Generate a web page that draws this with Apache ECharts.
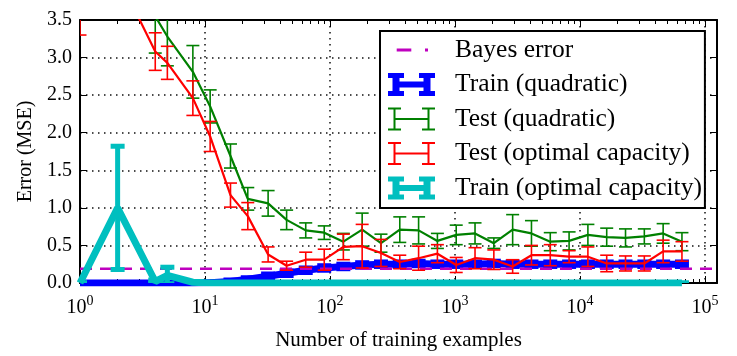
<!DOCTYPE html>
<html><head><meta charset="utf-8">
<script src="https://cdn.jsdelivr.net/npm/echarts@6/dist/echarts.min.js"></script>
<style>html,body{margin:0;padding:0;background:#fff}#c{width:737px;height:356px}</style>
</head><body><div id="c"></div>
<script>
// ---- data ----
const nExamples = [1,2,4,5,8,11,16,22,32,45,64,90,128,181,256,362,512,724,1024,1448,2048,2896,4096,5792,8192,11585,16384,23170,32768,46341,65536];

const trainQuadMean = [0,0,0,0,0,0.005,0.02,0.05,0.09,0.13,0.17,0.20,0.22,0.24,0.25,0.25,0.26,0.25,0.25,0.25,0.26,0.25,0.25,0.25,0.25,0.25,0.25,0.25,0.25,0.25,0.25];
const trainQuadErr  = [0,0,0,0,0,0.01,0.02,0.02,0.03,0.03,0.03,0.03,0.03,0.03,0.03,0.03,0.03,0.03,0.03,0.03,0.03,0.03,0.03,0.03,0.03,0.03,0.03,0.03,0.03,0.03,0.03];

const testQuadMean = [6.5,4.8,3.55,3.28,2.81,2.35,1.69,1.12,1.06,0.84,0.70,0.67,0.55,0.71,0.53,0.71,0.70,0.56,0.64,0.66,0.53,0.71,0.66,0.55,0.56,0.64,0.61,0.60,0.62,0.66,0.55];
const testQuadErr  = [1.5,0.8,0.49,0.39,0.35,0.22,0.16,0.15,0.17,0.13,0.10,0.09,0.11,0.22,0.12,0.17,0.18,0.10,0.13,0.14,0.07,0.20,0.17,0.12,0.12,0.14,0.12,0.12,0.10,0.13,0.12];

const testOptMean = [6.0,4.1,3.08,2.93,2.46,1.95,1.17,0.89,0.38,0.23,0.31,0.31,0.48,0.49,0.40,0.28,0.33,0.39,0.24,0.33,0.31,0.22,0.37,0.37,0.35,0.35,0.26,0.26,0.26,0.42,0.42];
const testOptErr  = [2.7,0.5,0.25,0.22,0.23,0.20,0.16,0.18,0.10,0.06,0.10,0.14,0.17,0.29,0.18,0.09,0.16,0.12,0.10,0.14,0.13,0.09,0.13,0.14,0.08,0.13,0.11,0.10,0.10,0.15,0.13];

const trainOptMean = [0,1.0,0.02,0.10,0.01,0,0,0,0,0,0,0,0,0,0,0,0,0,0,0,0,0,0,0,0,0,0,0,0,0,0];
const trainOptErr  = [0,0.82,0.02,0.11,0.01,0,0,0,0,0,0,0,0,0,0,0,0,0,0,0,0,0,0,0,0,0,0,0,0,0,0];

const bayesError = 0.19;

const xMin = 1, xMax = 125000;
const xTickExponents = [0,1,2,3,4,5];
const yTickLabels = ['0.0','0.5','1.0','1.5','2.0','2.5','3.0','3.5'];
const yMin = 0, yMax = 3.5, yStep = 0.5;

const seriesNames = ['Bayes error','Train (quadratic)','Test (quadratic)','Test (optimal capacity)','Train (optimal capacity)'];
const colors = {bayes:'#bf00bf', trainQuad:'#0000ff', testQuad:'#008000', testOpt:'#ff0000', trainOpt:'#00bfbf'};

// minor ticks of the log axis (2..9 in each decade)
const minorTicks = [];
for (let d = 0; d <= 5; d++) for (let k = 2; k <= 9; k++) { const v = k * Math.pow(10, d); if (v < xMax) minorTicks.push(v); }

const FONT = 'Liberation Serif';

function zip(m, e) { return nExamples.map((n, i) => [n, m[i], e[i]]); }
function zipLine(m) { return nExamples.map((n, i) => [n, m[i]]); }

function errBar(color, lw, capHalf) {
  return function (params, api) {
    const x = api.value(0), m = api.value(1), e = api.value(2);
    const hi = api.coord([x, m + e]), lo = api.coord([x, m - e]);
    const st = {stroke: color, lineWidth: lw, fill: null};
    return {type: 'group', children: [
      {type: 'line', shape: {x1: hi[0], y1: hi[1], x2: lo[0], y2: lo[1]}, style: st},
      {type: 'line', shape: {x1: hi[0] - capHalf, y1: hi[1], x2: hi[0] + capHalf, y2: hi[1]}, style: st},
      {type: 'line', shape: {x1: lo[0] - capHalf, y1: lo[1], x2: lo[0] + capHalf, y2: lo[1]}, style: st}
    ]};
  };
}

const thinH = 'path://M0 0H13V2H0Z M0 21H13V23H0Z M5.5 0H7.5V23H5.5Z M34 0H47V2H34Z M34 21H47V23H34Z M39.5 0H41.5V23H39.5Z M6.5 10.5H40.5V12.5H6.5Z';
const thickH = 'path://M0 0H16V5H0Z M0 18H16V23H0Z M4.5 0H11.5V23H4.5Z M31 0H47V5H31Z M31 18H47V23H31Z M35.5 0H42.5V23H35.5Z M8 8.5H39V14.5H8Z';
const dashDot = 'path://M0 0L0 0Z M47 23L47 23Z M8.7 10H23.3V13H8.7Z M37 10H40V13H37Z';

const chart = echarts.init(document.getElementById('c'), null, {renderer: 'canvas'});

const gridRect = {left: 80, right: 20, top: 20, bottom: 73, outerBoundsMode: 'none'};
const dotted = {color: '#111', width: 1.5, type: [1.5, 4.5]};

function lineSeries(name, mean, color, lw, z) {
  return {type: 'line', name: name, data: zipLine(mean), xAxisIndex: 0, yAxisIndex: 0,
    symbol: 'none', clip: true, z: z, lineStyle: {color: color, width: lw}, itemStyle: {color: color},
    emphasis: {disabled: true}, animation: false};
}
function barSeries(name, mean, err, color, lw, capHalf, z) {
  return {type: 'custom', name: name, data: zip(mean, err), xAxisIndex: 0, yAxisIndex: 0,
    encode: {x: 0, y: 1}, clip: true, z: z, renderItem: errBar(color, lw, capHalf),
    itemStyle: {color: color}, animation: false, silent: true};
}

chart.setOption({
  animation: false,
  textStyle: {fontFamily: FONT},
  grid: [Object.assign({}, gridRect), Object.assign({}, gridRect)],
  xAxis: [
    {type: 'log', gridIndex: 0, position: 'bottom', min: xMin, max: xMax, logBase: 10,
     axisLine: {show: true, onZero: false, lineStyle: {color: '#000', width: 2}},
     axisTick: {show: true, inside: true, length: 7, lineStyle: {color: '#000', width: 1}},
     splitLine: {show: true, lineStyle: dotted},
     axisLabel: {show: true, margin: 11, showMaxLabel: false, color: '#000',
       formatter: function (v) {
         const e = Math.round(Math.log10(v));
         if (xTickExponents.indexOf(e) < 0 || Math.abs(Math.pow(10, e) - v) > 1e-6 * v) return '';
         return '{b|10}{s|' + e + '}';
       },
       rich: {b: {fontSize: 20, fontFamily: FONT, color: '#000', lineHeight: 22},
              s: {fontSize: 14, fontFamily: FONT, color: '#000', verticalAlign: 'top', padding: [0, 0, 14, 0]}}},
     name: 'Number of training examples', nameLocation: 'middle', nameGap: 47,
     nameTextStyle: {fontSize: 21, fontFamily: FONT, color: '#000'}},
    {type: 'log', gridIndex: 0, position: 'top', min: xMin, max: xMax, logBase: 10,
     axisLine: {show: true, onZero: false, lineStyle: {color: '#000', width: 2}},
     axisTick: {show: true, inside: true, length: 7, lineStyle: {color: '#000', width: 1}},
     splitLine: {show: false}, axisLabel: {show: false}},
    {type: 'log', gridIndex: 1, position: 'bottom', min: xMin, max: xMax, logBase: 10,
     axisLine: {show: false, onZero: false},
     axisTick: {show: true, inside: true, length: 4, customValues: minorTicks, lineStyle: {color: '#000', width: 1}},
     splitLine: {show: false}, axisLabel: {show: false}},
    {type: 'log', gridIndex: 1, position: 'top', min: xMin, max: xMax, logBase: 10,
     axisLine: {show: false, onZero: false},
     axisTick: {show: true, inside: true, length: 4, customValues: minorTicks, lineStyle: {color: '#000', width: 1}},
     splitLine: {show: false}, axisLabel: {show: false}}
  ],
  yAxis: [
    {type: 'value', gridIndex: 0, position: 'left', min: yMin, max: yMax, interval: yStep,
     axisLine: {show: true, onZero: false, lineStyle: {color: '#000', width: 2}},
     axisTick: {show: true, inside: true, length: 7, lineStyle: {color: '#000', width: 1}},
     splitLine: {show: true, lineStyle: dotted},
     axisLabel: {show: true, margin: 8, color: '#000', fontSize: 20, fontFamily: FONT,
       formatter: function (v) { const i = Math.round((v - yMin) / yStep); return yTickLabels[i] || ''; }},
     name: 'Error (MSE)', nameLocation: 'middle', nameGap: 44,
     nameTextStyle: {fontSize: 20, fontFamily: FONT, color: '#000'}},
    {type: 'value', gridIndex: 0, position: 'right', min: yMin, max: yMax, interval: yStep,
     axisLine: {show: true, onZero: false, lineStyle: {color: '#000', width: 2}},
     axisTick: {show: true, inside: true, length: 7, lineStyle: {color: '#000', width: 1}},
     splitLine: {show: false}, axisLabel: {show: false}},
    {type: 'value', gridIndex: 1, min: yMin, max: yMax, show: false}
  ],
  legend: {
    show: true, orient: 'vertical', left: 380, top: 31, selectedMode: false,
    backgroundColor: '#fff', borderColor: '#000', borderWidth: 2, borderRadius: 0,
    padding: [6, 3, 7, 8], itemWidth: 47, itemHeight: 23, itemGap: 8.5, symbolKeepAspect: true,
    textStyle: {fontSize: 25.5, fontFamily: FONT, color: '#000', padding: [0, 0, 0, 15]},
    itemStyle: {borderWidth: 0},
    data: [
      {name: seriesNames[0], icon: dashDot, itemStyle: {color: colors.bayes, borderWidth: 0}},
      {name: seriesNames[1], icon: thickH, itemStyle: {color: colors.trainQuad, borderWidth: 0}},
      {name: seriesNames[2], icon: thinH, itemStyle: {color: colors.testQuad, borderWidth: 0}},
      {name: seriesNames[3], icon: thinH, itemStyle: {color: colors.testOpt, borderWidth: 0}},
      {name: seriesNames[4], icon: thickH, itemStyle: {color: colors.trainOpt, borderWidth: 0}}
    ],
    z: 20
  },
  series: [
    lineSeries(seriesNames[1], trainQuadMean, colors.trainQuad, 7, 2),
    barSeries(seriesNames[1], trainQuadMean, trainQuadErr, colors.trainQuad, 5, 7, 2),
    {type: 'line', name: seriesNames[0], data: [[xMin, bayesError], [xMax, bayesError]], xAxisIndex: 0, yAxisIndex: 0,
     symbol: 'none', z: 3, lineStyle: {color: colors.bayes, width: 2.5, type: [12, 8]}, itemStyle: {color: colors.bayes},
     emphasis: {disabled: true}, animation: false},
    lineSeries(seriesNames[2], testQuadMean, colors.testQuad, 2.2, 4),
    barSeries(seriesNames[2], testQuadMean, testQuadErr, colors.testQuad, 1.6, 6.5, 4),
    lineSeries(seriesNames[3], testOptMean, colors.testOpt, 2.2, 5),
    barSeries(seriesNames[3], testOptMean, testOptErr, colors.testOpt, 1.6, 6.5, 5),
    lineSeries(seriesNames[4], trainOptMean, colors.trainOpt, 7, 6),
    barSeries(seriesNames[4], trainOptMean, trainOptErr, colors.trainOpt, 5, 7, 6)
  ]
});
</script></body></html>
